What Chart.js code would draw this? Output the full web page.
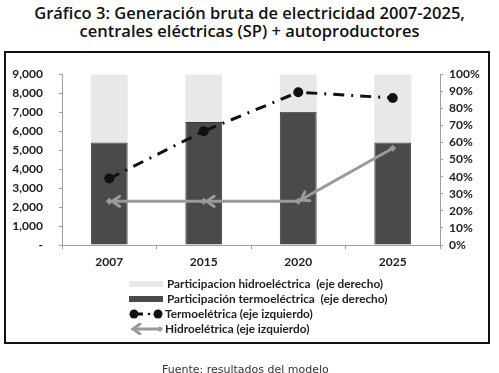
<!DOCTYPE html>
<html>
<head>
<meta charset="utf-8">
<script src="https://cdn.jsdelivr.net/npm/chart.js@4.4.1/dist/chart.umd.min.js"></script>
<style>
    html, body { margin: 0; padding: 0; background: #fff; }
    body { width: 499px; height: 373px; position: relative; overflow: hidden; font-family: Lato, sans-serif; }
    .title { position: absolute; left: 0; top: 4px; width: 499px; text-align: center; font-family: 'Open Sans', sans-serif; font-weight: 600; font-size: 16.5px; line-height: 18px; color: #111; }
    .chart-box { position: absolute; left: 4px; top: 51px; width: 486px; height: 293px; }
    .legend { position: absolute; left: 129px; top: 276px; font-family: Lato, sans-serif; font-weight: bold; font-size: 11.8px; color: #222; }
    .legend-row { height: 15px; line-height: 15px; display: flex; align-items: center; white-space: pre; }
    .sw { display: inline-block; width: 34px; height: 6px; margin-right: 4px; }
    .mk { display: inline-block; width: 34px; height: 12px; margin-right: 2px; }
    .source { position: absolute; left: 162px; top: 363px; font-family: 'DejaVu Sans', sans-serif; font-size: 11px; color: #333; }
</style>
</head>
<body>
<div class="title">Gráfico 3: Generación bruta de electricidad 2007-2025,<br>centrales eléctricas (SP) + autoproductores</div>
<div class="chart-box"><canvas id="gen-chart"></canvas></div>
<div class="legend" id="gen-legend"></div>
<div class="source">Fuente: resultados del modelo</div>
<script>
(function () {
    'use strict';

    var years = ['2007', '2015', '2020', '2025'];
    // participación (%), eje derecho
    var thermoShare = [60, 72, 78, 60];
    var hydroShare = [40, 28, 22, 40];
    // generación (GWh), eje izquierdo
    var thermoGen = [3500, 6000, 8050, 7750];
    var hydroGen = [2300, 2300, 2300, 5100];

    var colors = {
        hydroBar: '#e8e8e8',
        thermoBar: '#4a4a4a',
        thermoLine: '#111111',
        hydroLine: '#9a9a9a',
        axis: '#a0a0a0',
        text: '#222222'
    };

    // black box round the whole chart + legend
    var framePlugin = {
        id: 'frame',
        afterDraw: function (chart) {
            var ctx = chart.ctx;
            ctx.save();
            ctx.strokeStyle = '#111';
            ctx.lineWidth = 2;
            ctx.strokeRect(1, 1, chart.width - 2, chart.height - 2);
            ctx.restore();
        }
    };

    // draws the little arrowheads at the start of every hydro segment
    var arrowPlugin = {
        id: 'hydroArrows',
        afterDatasetsDraw: function (chart) {
            var meta = chart.getDatasetMeta(3);
            if (!meta || meta.hidden) return;
            var pts = meta.data;
            var ctx = chart.ctx;
            ctx.save();
            ctx.strokeStyle = colors.hydroLine;
            ctx.lineWidth = 3;
            ctx.lineCap = 'round';
            for (var i = 0; i < pts.length - 1; i++) {
                var a = pts[i], b = pts[i + 1];
                var ang = Math.atan2(a.y - b.y, a.x - b.x);
                var tipX = a.x + Math.cos(ang) * -3;
                var tipY = a.y + Math.sin(ang) * -3;
                var len = 9, spread = 0.6;
                ctx.beginPath();
                ctx.moveTo(tipX - Math.cos(ang - spread) * len, tipY - Math.sin(ang - spread) * len);
                ctx.lineTo(tipX, tipY);
                ctx.lineTo(tipX - Math.cos(ang + spread) * len, tipY - Math.sin(ang + spread) * len);
                ctx.stroke();
            }
            ctx.restore();
        }
    };

    function buildLegend() {
        var el = document.getElementById('gen-legend');
        el.innerHTML =
            '<div class="legend-row"><span class="sw" style="background:' + colors.hydroBar + '"></span>Participacion hidroeléctrica  (eje derecho)</div>' +
            '<div class="legend-row"><span class="sw" style="background:' + colors.thermoBar + '"></span>Participación termoeléctrica  (eje derecho)</div>' +
            '<div class="legend-row"><canvas class="mk" id="mk-thermo" width="34" height="12"></canvas>Termoelétrica (eje izquierdo)</div>' +
            '<div class="legend-row"><canvas class="mk" id="mk-hydro" width="34" height="12"></canvas>Hidroelétrica (eje izquierdo)</div>';

        var c1 = document.getElementById('mk-thermo').getContext('2d');
        c1.fillStyle = colors.thermoLine;
        c1.strokeStyle = colors.thermoLine;
        c1.lineWidth = 3;
        c1.beginPath(); c1.arc(5, 6, 4.5, 0, Math.PI * 2); c1.fill();
        c1.beginPath(); c1.moveTo(8, 6); c1.lineTo(14, 6); c1.stroke();
        c1.beginPath(); c1.arc(20, 6, 1.3, 0, Math.PI * 2); c1.fill();
        c1.beginPath(); c1.arc(29, 6, 4.5, 0, Math.PI * 2); c1.fill();

        var c2 = document.getElementById('mk-hydro').getContext('2d');
        c2.strokeStyle = colors.hydroLine;
        c2.fillStyle = colors.hydroLine;
        c2.lineWidth = 3;
        c2.lineCap = 'round';
        c2.beginPath(); c2.moveTo(4, 6); c2.lineTo(30, 6); c2.stroke();
        c2.beginPath(); c2.moveTo(11, 1); c2.lineTo(4, 6); c2.lineTo(11, 11); c2.stroke();
        c2.beginPath(); c2.moveTo(31, 3); c2.lineTo(34, 6); c2.lineTo(31, 9); c2.lineTo(28, 6); c2.fill();
    }

    function renderChart() {
        var ctx = document.getElementById('gen-chart').getContext('2d');
        var tickFont = { family: 'Lato', weight: 'bold', size: 12 };

        new Chart(ctx, {
            data: {
                labels: years,
                datasets: [
                    {
                        type: 'line',
                        label: 'Termoelétrica (eje izquierdo)',
                        data: thermoGen,
                        yAxisID: 'y',
                        borderColor: colors.thermoLine,
                        backgroundColor: colors.thermoLine,
                        borderWidth: 3,
                        borderDash: [11, 7, 2, 7],
                        pointRadius: 5,
                        pointBackgroundColor: colors.thermoLine,
                        pointBorderWidth: 0,
                        tension: 0,
                        order: 1
                    },
                    {
                        type: 'bar',
                        label: 'Participación termoeléctrica (eje derecho)',
                        data: thermoShare,
                        yAxisID: 'y1',
                        backgroundColor: colors.thermoBar,
                        borderColor: '#3a3a3a',
                        borderWidth: 1,
                        stack: 's',
                        barPercentage: 0.39,
                        categoryPercentage: 1,
                        order: 3
                    },
                    {
                        type: 'bar',
                        label: 'Participacion hidroeléctrica (eje derecho)',
                        data: hydroShare,
                        yAxisID: 'y1',
                        backgroundColor: colors.hydroBar,
                        borderWidth: 0,
                        stack: 's',
                        barPercentage: 0.39,
                        categoryPercentage: 1,
                        order: 3
                    },
                    {
                        type: 'line',
                        label: 'Hidroelétrica (eje izquierdo)',
                        data: hydroGen,
                        yAxisID: 'y',
                        borderColor: colors.hydroLine,
                        backgroundColor: colors.hydroLine,
                        borderWidth: 3,
                        pointStyle: 'rectRot',
                        pointRadius: 3.5,
                        pointBorderWidth: 0,
                        tension: 0,
                        order: 2
                    }
                ]
            },
            options: {
                responsive: true,
                maintainAspectRatio: false,
                animation: false,
                layout: { padding: { top: 11, left: 0, right: 0, bottom: 71 } },
                plugins: {
                    legend: { display: false },
                    tooltip: { enabled: false }
                },
                scales: {
                    x: {
                        stacked: true,
                        offset: true,
                        grid: { display: true, drawOnChartArea: false, drawTicks: true, tickLength: 4, offset: true, color: colors.axis },
                        border: { color: colors.axis, width: 1 },
                        ticks: { color: colors.text, font: tickFont, padding: 6 },
                        afterFit: function (scale) { scale.height = 28; }
                    },
                    y: {
                        position: 'left',
                        min: 0,
                        max: 9000,
                        grid: { display: true, drawOnChartArea: false, drawTicks: true, tickLength: 3, color: colors.axis },
                        border: { color: colors.axis, width: 1 },
                        ticks: {
                            stepSize: 1000,
                            autoSkip: false,
                            color: colors.text,
                            font: tickFont,
                            padding: 16,
                            callback: function (value) {
                                if (value === 0) return '-';
                                return value.toLocaleString('en-US');
                            }
                        },
                        afterFit: function (scale) { scale.width = 58; }
                    },
                    y1: {
                        position: 'right',
                        stacked: true,
                        min: 0,
                        max: 100,
                        grid: { display: true, drawOnChartArea: false, drawTicks: true, tickLength: 3, color: colors.axis },
                        border: { color: colors.axis, width: 1 },
                        ticks: {
                            stepSize: 10,
                            autoSkip: false,
                            color: colors.text,
                            font: tickFont,
                            padding: 6,
                            callback: function (value) { return value + '%'; }
                        },
                        afterFit: function (scale) { scale.width = 50; }
                    }
                }
            },
            plugins: [arrowPlugin, framePlugin]
        });
    }

    buildLegend();
    renderChart();
})();
</script>
</body>
</html>
